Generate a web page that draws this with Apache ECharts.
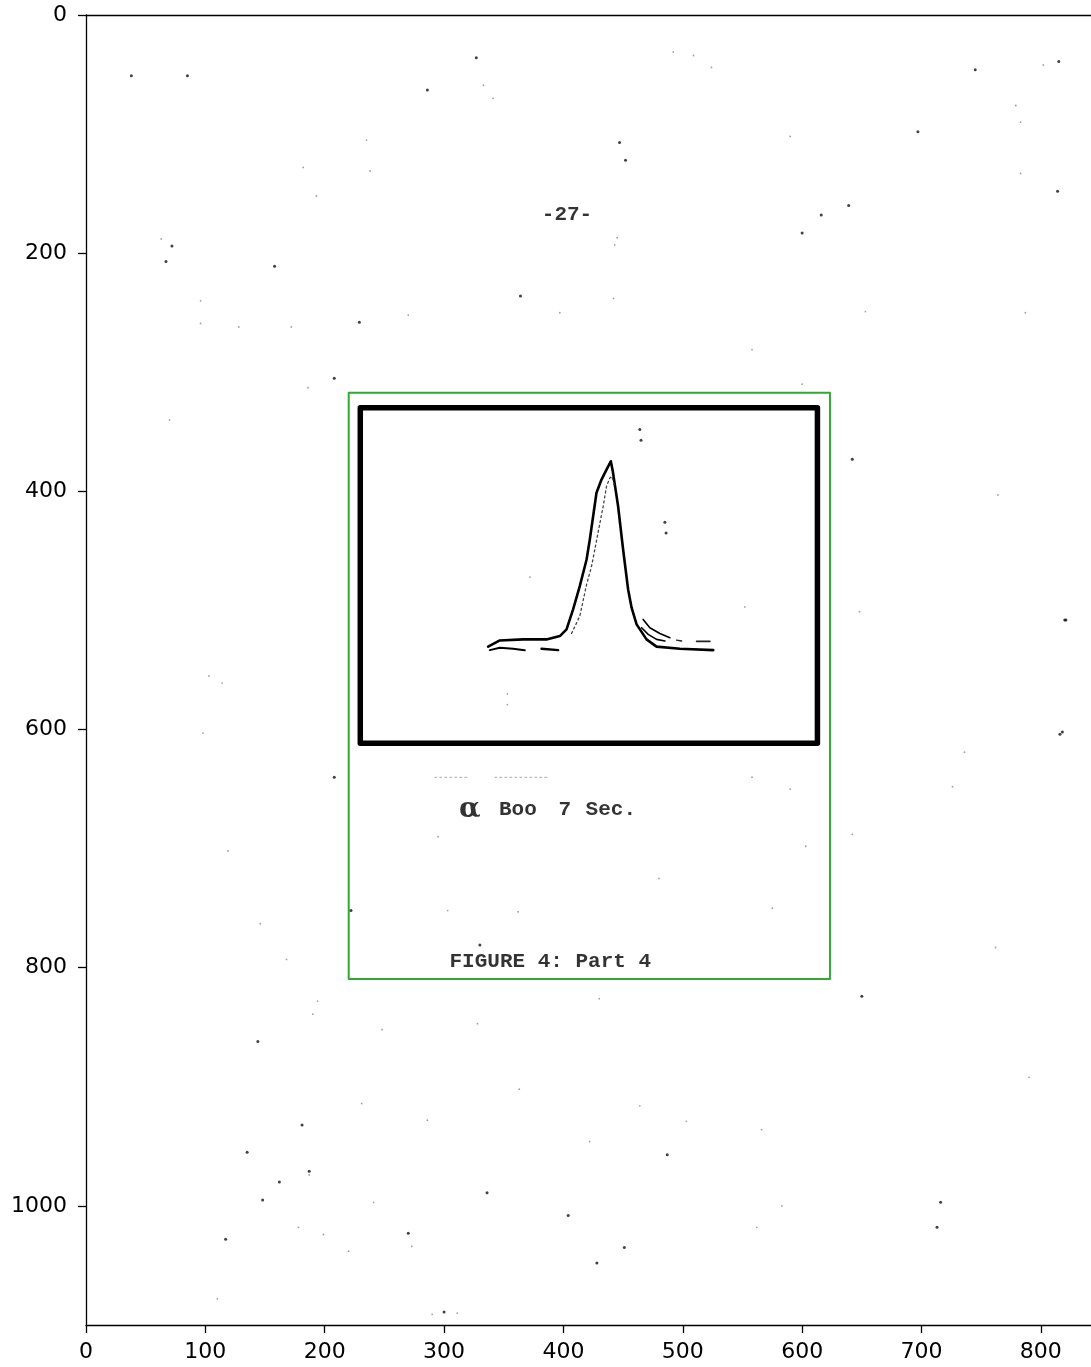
<!DOCTYPE html>
<html>
<head>
<meta charset="utf-8">
<title>FIGURE 4: Part 4</title>
<script src="https://cdn.jsdelivr.net/npm/echarts@6/dist/echarts.min.js"></script>
<style>
  html, body { margin: 0; padding: 0; background: #fff; }
  #chart { width: 1091px; height: 1367px; }
</style>
</head>
<body>
<div id="chart"></div>
<script>
// Page extent in image pixel units (x to the right, y downwards)
const xTicks = [0, 100, 200, 300, 400, 500, 600, 700, 800];
const yTicks = [0, 200, 400, 600, 800, 1000];
const xExtent = [0, 842];
const yExtent = [0, 1100];

// Printed frame around the plotted profile
const frameBox = [[229.8, 329.7], [612.8, 329.7], [612.8, 611.6], [229.8, 611.6], [229.8, 329.7]];
// Detected figure region
const regionBox = [[220.1, 317.1], [623.3, 317.1], [623.3, 809.5], [220.1, 809.5], [220.1, 317.1]];

// Line profile, main trace
const profileMain = [
  [336.9, 530.4], [346.7, 525.2], [366.2, 524.3], [385.8, 524.3], [397.0, 521.5],
  [402.6, 515.9], [408.1, 499.1], [413.7, 479.6], [419.4, 457.2], [422.1, 440.4],
  [427.7, 401.2], [431.9, 390.1], [436.1, 381.7], [439.7, 374.7], [441.4, 383.4],
  [445.8, 412.5], [450.0, 448.8], [454.2, 482.4], [457.1, 497.7], [461.3, 511.7],
  [469.6, 524.3], [478.0, 530.4], [497.6, 532.1], [525.5, 533.3]
];
// Inner (dotted) rising edge
const profileInner = [
  [406.8, 519.3], [413.7, 504.8], [419.4, 478.2], [423.5, 463.1], [433.3, 412.5],
  [436.1, 395.7], [438.9, 388.7], [440.6, 387.3], [442.6, 395.0]
];
// Lower continuum on the blue side
const continuumLeftA = [[338.3, 533.3], [346.7, 531.3], [357.8, 532.1], [367.6, 533.5]];
const continuumLeftB = [[381.6, 532.1], [395.6, 533.3]];
// Extra wing traces on the red side
const wingUpper = [[466.8, 507.5], [472.4, 514.5], [480.8, 519.3], [489.2, 522.9]];
const wingMiddle = [[465.5, 514.5], [471.0, 520.1], [478.0, 524.3], [485.0, 525.7]];
const wingDashA = [[494.8, 524.9], [499.0, 525.7]];
const wingDashB = [[511.5, 526.0], [522.7, 526.0]];
// Faint dotted rule above the caption
const ruleA = [[292.2, 640.1], [321.5, 640.1]];
const ruleB = [[342.5, 640.1], [386.9, 640.1]];

// Typed text on the page: [x, y, text]
const pageTexts = [
  [403, 168, '-27-'],
  [361.8, 667, 'Boo'],
  [401.2, 667, '7'],
  [439.7, 667, 'Sec.'],
  [389, 795.3, 'FIGURE 4: Part 4']
];
// Hand-written symbol
const handTexts = [[321.5, 667, 'α']];

// Dust and scan specks
const specksDark = [
  [158, 211], [697, 98], [222, 752], [300, 1089], [428, 1048], [716, 997], [135, 955],
  [181, 932], [330, 781], [745, 46], [814, 148], [364, 236], [229, 258], [327, 36],
  [286, 63], [447, 107], [464, 348], [465, 357], [485, 426], [486, 435], [639, 160],
  [616, 168], [600, 183], [815, 39], [38, 51], [85, 51], [67, 207], [72, 194], [452, 122],
  [820, 508], [821, 508], [816, 604], [818, 602], [208, 640], [144, 862], [270, 1023],
  [336, 989], [148, 995], [162, 980], [117, 1028], [404, 1008], [487, 957], [713, 1018],
  [208, 305], [642, 373], [650, 824], [451, 1035], [187, 971]
];
const specksFaint = [
  [445, 187], [443, 193], [397, 250], [442, 238], [187, 974], [178, 1018], [290, 1091],
  [311, 1090], [110, 1078], [220, 1038], [199, 1024], [241, 997], [273, 1034], [562, 1018],
  [583, 1000], [182, 128], [193, 152], [235, 105], [238, 131], [524, 44], [802, 42],
  [779, 76], [783, 90], [783, 133], [590, 102], [492, 31], [509, 34], [333, 59], [341, 70],
  [63, 188], [96, 240], [96, 259], [128, 262], [172, 262], [270, 252], [558, 281],
  [653, 249], [787, 250], [186, 313], [70, 340], [600, 310], [764, 403], [372, 472],
  [353, 570], [353, 579], [552, 497], [648, 501], [103, 555], [114, 561], [98, 603],
  [119, 702], [558, 640], [736, 619], [726, 648], [590, 650], [603, 698], [642, 688],
  [295, 690], [146, 763], [168, 793], [303, 752], [362, 753], [480, 725], [575, 750],
  [762, 783], [430, 826], [328, 847], [248, 852], [194, 828], [190, 839], [790, 892],
  [363, 902], [464, 916], [231, 914], [286, 928], [503, 929], [566, 936], [422, 946]
];

const chart = echarts.init(document.getElementById('chart'), null, { renderer: 'canvas' });

const axisFont = { fontFamily: 'DejaVu Sans', fontSize: 22, color: '#000', formatter: v => String(v) };
const typeFont = 'Liberation Mono';

function path(data, width, color, type, z) {
  return {
    type: 'line', data: data, symbol: 'none', silent: true, animation: false,
    smooth: false, z: z || 3,
    lineStyle: { width: width, color: color, type: type || 'solid', cap: 'round', join: 'round' }
  };
}

function textSeries(items, font) {
  return {
    type: 'scatter', symbolSize: 0, silent: true, animation: false, z: 5,
    data: items.map(t => ({ value: [t[0], t[1]], name: t[2] })),
    label: {
      show: true, position: 'inside', formatter: p => p.name,
      fontFamily: font.family, fontSize: font.size, fontWeight: font.weight,
      color: '#000', align: 'center', verticalAlign: 'middle'
    }
  };
}

chart.setOption({
  backgroundColor: '#fff',
  animation: false,
  grid: { left: 86, right: 0, top: 15, bottom: 42, containLabel: false },
  xAxis: [{
    type: 'value', min: xExtent[0], max: xExtent[1], position: 'bottom',
    splitLine: { show: false },
    axisLine: { show: true, onZero: false, lineStyle: { color: '#000', width: 1.3 } },
    axisTick: { show: true, length: 8, customValues: xTicks, lineStyle: { color: '#000', width: 1.3 } },
    axisLabel: Object.assign({ margin: 16, customValues: xTicks }, axisFont)
  }, {
    type: 'value', min: xExtent[0], max: xExtent[1], position: 'top',
    splitLine: { show: false },
    axisLine: { show: true, onZero: false, lineStyle: { color: '#000', width: 1.3 } },
    axisTick: { show: false }, axisLabel: { show: false }
  }],
  yAxis: {
    type: 'value', min: yExtent[0], max: yExtent[1], inverse: true,
    splitLine: { show: false },
    axisLine: { show: true, onZero: false, lineStyle: { color: '#000', width: 1.3 } },
    axisTick: { show: true, length: 8, customValues: yTicks, lineStyle: { color: '#000', width: 1.3 } },
    axisLabel: Object.assign({ margin: 19, customValues: yTicks }, axisFont)
  },
  series: [
    path(regionBox, 2, '#33a833', 'solid', 2),
    path(frameBox, 5.5, '#000', 'solid', 3),
    path(profileMain, 2.6, '#000'),
    path(profileInner, 1.3, '#444', [2, 3]),
    path(continuumLeftA, 2, '#000'),
    path(continuumLeftB, 2.4, '#000'),
    path(wingUpper, 1.6, '#000'),
    path(wingMiddle, 1.6, '#000'),
    path(wingDashA, 1.4, '#222'),
    path(wingDashB, 1.6, '#222'),
    path(ruleA, 1, '#aaa', [2, 3]),
    path(ruleB, 1, '#aaa', [2, 3]),
    {
      type: 'scatter', data: specksDark, symbol: 'circle', symbolSize: 3,
      itemStyle: { color: '#111' }, silent: true, animation: false, z: 2
    },
    {
      type: 'scatter', data: specksFaint, symbol: 'circle', symbolSize: 1.8,
      itemStyle: { color: '#888' }, silent: true, animation: false, z: 2
    },
    textSeries(pageTexts, { family: typeFont, size: 21, weight: 'bold' }),
    textSeries(handTexts, { family: 'DejaVu Serif', size: 28, weight: 'bold' })
  ]
});
</script>
</body>
</html>
